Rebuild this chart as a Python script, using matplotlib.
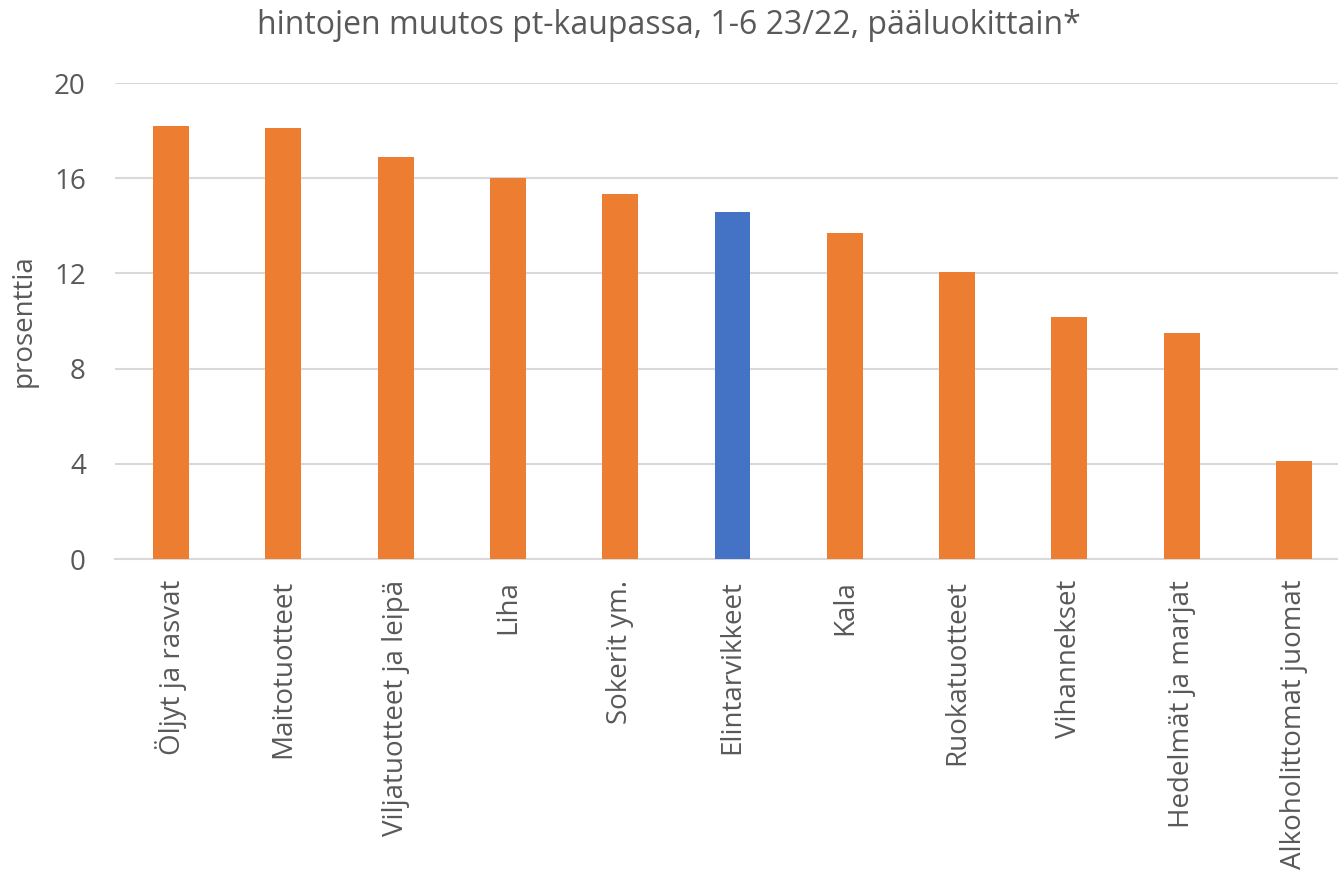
import numpy as np
import matplotlib.pyplot as plt

plt.rcParams['font.family'] = ['Open Sans', 'DejaVu Sans']

categories = ["Öljyt ja rasvat", "Maitotuotteet", "Viljatuotteet ja leipä", "Liha",
              "Sokerit ym.", "Elintarvikkeet", "Kala", "Ruokatuotteet",
              "Vihannekset", "Hedelmät ja marjat", "Alkoholittomat juomat"]
values = [18.21, 18.11, 16.87, 16.02, 15.32, 14.56, 13.71, 12.04, 10.18, 9.48, 4.10]
highlight = "Elintarvikkeet"

orange = '#ED7D31'
blue = '#4472C4'
grey = '#595959'
colors = [blue if c == highlight else orange for c in categories]

W, H = 1338, 875
fig = plt.figure(figsize=(W / 100, H / 100), dpi=100)
x0, x1, y0, y1 = 115, 1350, 559, 83
ax = fig.add_axes([x0 / W, 1 - y0 / H, (x1 - x0) / W, (y0 - y1) / H])

x = np.arange(len(categories))
ax.bar(x, values, width=0.32, color=colors, zorder=3)

ax.set_xlim(-0.5, len(categories) - 0.5)
ax.set_ylim(0, 20)
ax.set_yticks([0, 4, 8, 12, 16, 20])
ax.grid(axis='y', color='#D9D9D9', linewidth=1.5, zorder=0)
for s in ['top', 'right', 'left']:
    ax.spines[s].set_visible(False)
ax.spines['bottom'].set_color('#D9D9D9')
ax.spines['bottom'].set_linewidth(1.5)
ax.tick_params(length=0, colors=grey, labelsize=20)
ax.tick_params(axis='y', pad=21)
ax.tick_params(axis='x', pad=15)
ax.set_xticks(x)
ax.set_xticklabels(categories, rotation=90)
ax.set_ylabel("prosenttia", fontsize=20, color=grey, labelpad=12)

fig.text(0.5, 1 - 26 / H, "hintojen muutos pt-kaupassa, 1-6 23/22, pääluokittain*",
         ha='center', va='center', fontsize=23, color=grey)

fig.savefig("out.png", dpi=100)
